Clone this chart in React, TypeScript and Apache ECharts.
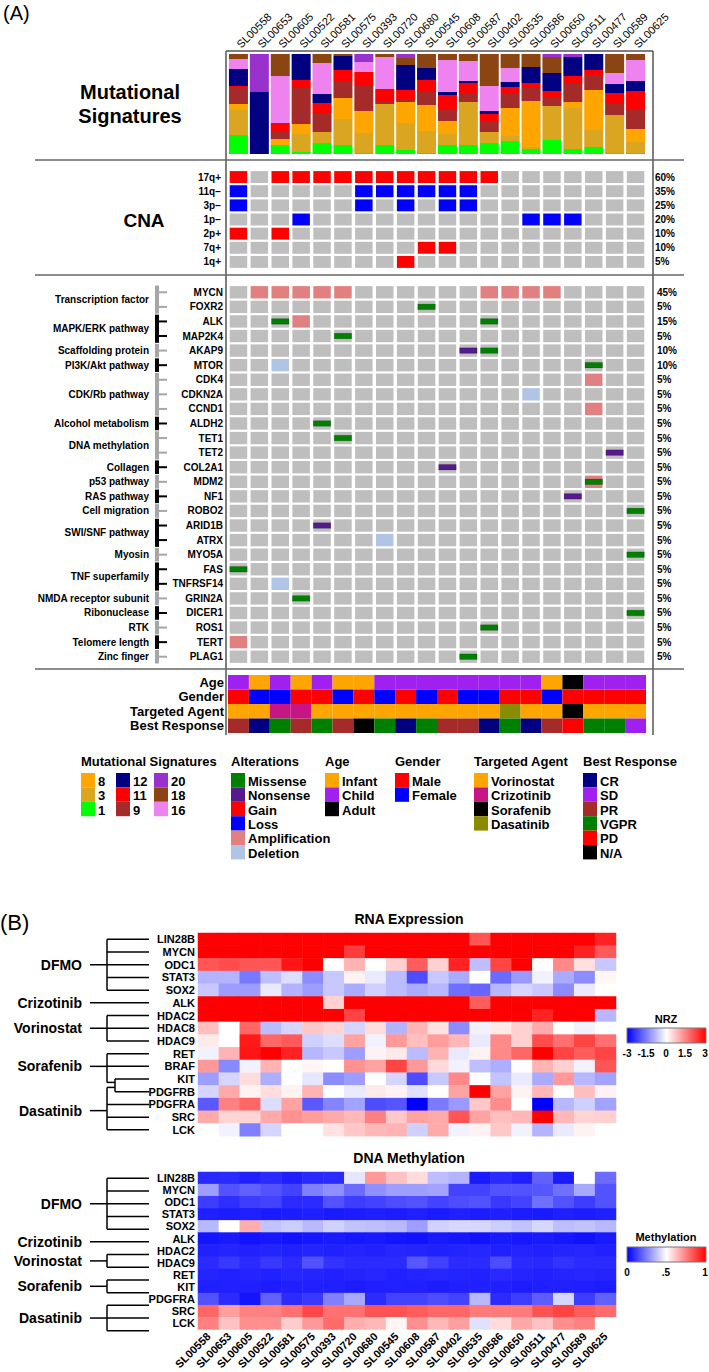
import React, { useEffect, useRef } from 'react';
import * as echarts from 'echarts';

const FONT = '"Liberation Sans", Arial, Helvetica, sans-serif';
const fnt = (size: number, bold = true) => `${bold ? 'bold ' : ''}${size}px ${FONT}`;

const samples = ['SL00558', 'SL00653', 'SL00605', 'SL00522', 'SL00581', 'SL00575', 'SL00393', 'SL00720', 'SL00680', 'SL00545', 'SL00608', 'SL00587', 'SL00402', 'SL00535', 'SL00586', 'SL00650', 'SL00511', 'SL00477', 'SL00589', 'SL00625'];

// Mutational signatures (% of each sample), stacked bottom -> top
const sigNames = ['1', '3', '8', '9', '11', '12', '16', '18', '20'];
const sig1 = [19, 0, 9, 2, 11, 9, 1, 9, 4, 1, 9, 9, 11, 13, 5, 14, 5, 7, 1, 1];
const sig3 = [25, 0, 0, 18, 11, 26, 20, 41, 27, 22, 11, 43, 11, 5, 2, 34, 41, 17, 38, 11];
const sig8 = [6, 0, 6, 10, 0, 21, 22, 0, 21, 26, 13, 0, 0, 28, 46, 0, 6, 40, 0, 13];
const sig9 = [17, 0, 8, 36, 19, 16, 26, 2, 3, 13, 12, 9, 10, 14, 13, 9, 19, 15, 11, 20];
const sig11 = [1, 0, 8, 8, 10, 12, 13, 13, 9, 12, 14, 10, 8, 7, 5, 6, 7, 5, 11, 18];
const sig12 = [17, 62, 0, 26, 9, 14, 0, 0, 25, 12, 3, 2, 3, 5, 16, 18, 19, 16, 9, 10];
const sig16 = [10, 0, 47, 0, 31, 0, 10, 32, 0, 0, 32, 20, 25, 14, 0, 0, 0, 0, 11, 21];
const sig18 = [5, 0, 22, 0, 9, 2, 0, 3, 7, 14, 6, 7, 32, 14, 13, 16, 0, 0, 19, 6];
const sig20 = [0, 38, 0, 0, 0, 0, 8, 0, 4, 0, 0, 0, 0, 0, 0, 3, 3, 0, 0, 0];
const sigValues = [sig1, sig3, sig8, sig9, sig11, sig12, sig16, sig18, sig20];

// Copy number alterations
const cnaLabels = ['17q+', '11q\u2212', '3p\u2212', '1p\u2212', '2p+', '7q+', '1q+'];
const cnaPct = ['60%', '35%', '25%', '20%', '10%', '10%', '5%'];
const cnaType = ['Gain', 'Loss', 'Loss', 'Loss', 'Gain', 'Gain', 'Gain'];
const cnaSamples = [
  [0, 2, 3, 4, 5, 6, 7, 8, 9, 10, 11, 12],
  [0, 6, 7, 8, 9, 10, 11],
  [0, 6, 8, 10, 11],
  [3, 14, 15, 16],
  [0, 2],
  [9, 10],
  [8],
];

// Gene alterations
const genes = ['MYCN', 'FOXR2', 'ALK', 'MAP2K4', 'AKAP9', 'MTOR', 'CDK4', 'CDKN2A', 'CCND1', 'ALDH2', 'TET1', 'TET2', 'COL2A1', 'MDM2', 'NF1', 'ROBO2', 'ARID1B', 'ATRX', 'MYO5A', 'FAS', 'TNFRSF14', 'GRIN2A', 'DICER1', 'ROS1', 'TERT', 'PLAG1'];
const genePct = ['45%', '5%', '15%', '5%', '10%', '10%', '5%', '5%', '5%', '5%', '5%', '5%', '5%', '5%', '5%', '5%', '5%', '5%', '5%', '5%', '5%', '5%', '5%', '5%', '5%', '5%'];
const geneAlterations: [string, number, string][] = [
  ['MYCN', 1, 'Amplification'], ['MYCN', 2, 'Amplification'], ['MYCN', 3, 'Amplification'], ['MYCN', 4, 'Amplification'], ['MYCN', 5, 'Amplification'],
  ['MYCN', 12, 'Amplification'], ['MYCN', 13, 'Amplification'], ['MYCN', 14, 'Amplification'], ['MYCN', 15, 'Amplification'],
  ['FOXR2', 9, 'Missense'],
  ['ALK', 2, 'Missense'], ['ALK', 3, 'Amplification'], ['ALK', 12, 'Missense'],
  ['MAP2K4', 5, 'Missense'],
  ['AKAP9', 11, 'Nonsense'], ['AKAP9', 12, 'Missense'],
  ['MTOR', 2, 'Deletion'], ['MTOR', 17, 'Missense'],
  ['CDK4', 17, 'Amplification'],
  ['CDKN2A', 14, 'Deletion'],
  ['CCND1', 17, 'Amplification'],
  ['ALDH2', 4, 'Missense'],
  ['TET1', 5, 'Missense'],
  ['TET2', 18, 'Nonsense'],
  ['COL2A1', 10, 'Nonsense'],
  ['MDM2', 17, 'Amplification'], ['MDM2', 17, 'Missense'],
  ['NF1', 16, 'Nonsense'],
  ['ROBO2', 19, 'Missense'],
  ['ARID1B', 4, 'Nonsense'],
  ['ATRX', 7, 'Deletion'],
  ['MYO5A', 19, 'Missense'],
  ['FAS', 0, 'Missense'],
  ['TNFRSF14', 2, 'Deletion'],
  ['GRIN2A', 3, 'Missense'],
  ['DICER1', 19, 'Missense'],
  ['ROS1', 12, 'Missense'],
  ['TERT', 0, 'Amplification'],
  ['PLAG1', 11, 'Missense'],
];
const pathwayGroups: [string, number, number][] = [
  ['Transcription factor', 0, 1], ['MAPK/ERK pathway', 2, 3], ['Scaffolding protein', 4, 4], ['PI3K/Akt pathway', 5, 5],
  ['CDK/Rb pathway', 6, 8], ['Alcohol metabolism', 9, 9], ['DNA methylation', 10, 11], ['Collagen', 12, 12],
  ['p53 pathway', 13, 13], ['RAS pathway', 14, 14], ['Cell migration', 15, 15], ['SWI/SNF pathway', 16, 17],
  ['Myosin', 18, 18], ['TNF superfamily', 19, 20], ['NMDA receptor subunit', 21, 21], ['Ribonuclease', 22, 22],
  ['RTK', 23, 23], ['Telomere length', 24, 24], ['Zinc finger', 25, 25],
];

// Clinical annotations
const clinRows = ['Age', 'Gender', 'Targeted Agent', 'Best Response'];
const ageGroup = ['Child', 'Infant', 'Child', 'Infant', 'Child', 'Infant', 'Infant', 'Child', 'Child', 'Child', 'Child', 'Child', 'Child', 'Child', 'Child', 'Infant', 'Adult', 'Child', 'Child', 'Child'];
const gender = ['Male', 'Female', 'Female', 'Male', 'Male', 'Female', 'Male', 'Female', 'Male', 'Female', 'Male', 'Female', 'Female', 'Male', 'Male', 'Female', 'Male', 'Male', 'Male', 'Male'];
const targetedAgent = ['Vorinostat', 'Vorinostat', 'Crizotinib', 'Crizotinib', 'Vorinostat', 'Vorinostat', 'Vorinostat', 'Vorinostat', 'Vorinostat', 'Vorinostat', 'Vorinostat', 'Vorinostat', 'Vorinostat', 'Dasatinib', 'Vorinostat', 'Vorinostat', 'Sorafenib', 'Vorinostat', 'Vorinostat', 'Vorinostat'];
const bestResponse = ['PR', 'CR', 'VGPR', 'PR', 'VGPR', 'PR', 'N/A', 'VGPR', 'CR', 'VGPR', 'PR', 'PR', 'CR', 'VGPR', 'CR', 'PR', 'PD', 'VGPR', 'VGPR', 'SD'];

// RNA expression (NRZ)
const rnaGenes = ['LIN28B', 'MYCN', 'ODC1', 'STAT3', 'SOX2', 'ALK', 'HDAC2', 'HDAC8', 'HDAC9', 'RET', 'BRAF', 'KIT', 'PDGFRB', 'PDGFRA', 'SRC', 'LCK'];
const rnaLIN28B = [3.2, 3.1, 3.3, 3.2, 3.4, 3.1, 3.2, 3.3, 3.1, 3.2, 3.4, 3.2, 3.1, 2.0, 3.2, 3.3, 3.1, 3.2, 3.1, 2.6];
const rnaMYCN = [3.3, 3.2, 3.1, 3.4, 3.2, 3.3, 3.1, 2.3, 3.2, 3.1, 3.3, 3.2, 3.4, 3.1, 3.2, 3.3, 3.1, 3.2, 2.6, 1.95];
const rnaODC1 = [2.0, 2.1, 2.0, 2.0, 2.75, 3.0, 0.0, 0.9, 0.0, 0.55, 1.9, 0.55, 2.6, -0.75, 2.2, 3.0, 0.0, 1.4, 0.35, -0.65];
const rnaSTAT3 = [-0.9, -0.9, -1.6, -0.75, -0.4, -1.35, -0.65, 0.15, -0.25, -0.8, -2.1, -0.65, -1.0, 0.0, -1.75, -1.2, -0.15, -1.0, -1.35, 0.1];
const rnaSOX2 = [-0.65, -1.15, -1.15, -0.25, -0.9, -1.15, -0.65, -1.0, -0.55, -0.8, -1.0, -0.85, -1.7, -1.8, -0.85, -0.5, -0.65, -1.35, -0.25, 0.0];
const rnaALK = [3.2, 3.3, 3.1, 3.2, 3.4, 3.1, 0.55, 3.3, 3.2, 3.1, 3.2, 3.3, 3.1, 1.9, 3.2, 3.1, 3.3, 3.2, 3.1, 3.4];
const rnaHDAC2 = [3.1, 3.2, 3.3, 3.1, 3.2, 3.3, 3.1, 2.2, 3.2, 3.1, 3.3, 3.2, 3.1, 3.2, 3.3, 3.1, 2.6, 3.2, 3.1, -0.85];
const rnaHDAC8 = [0.75, 0.0, 1.8, -0.8, -0.5, 0.65, 0.5, -0.5, 0.4, -0.9, 0.9, 0.35, -1.35, -0.15, 0.25, 0.55, 1.0, 0.0, -0.15, 0.0];
const rnaHDAC9 = [0.25, 0.0, 2.7, 1.8, 1.95, -0.55, -0.4, 1.1, -0.15, 1.2, 0.75, 1.15, 0.85, -0.25, 1.4, 0.55, 2.1, 1.7, 2.2, 1.7];
const rnaRET = [-0.15, 0.9, 2.75, 3.0, 2.6, -0.85, -0.65, -1.15, 0.15, 0.25, -0.8, 0.9, -0.25, 0.15, 1.4, 1.8, 3.0, 2.2, 1.9, 2.2];
const rnaBRAF = [1.2, -1.4, -0.15, 0.9, 0.0, 0.1, 0.0, 1.3, 1.1, 2.2, 1.2, 0.45, -0.15, -0.75, -0.95, 0.0, 0.9, 0.55, -0.15, 2.0];
const rnaKIT = [-1.15, -0.5, 0.4, -0.95, 0.0, -0.3, -1.35, -1.15, 0.0, -0.5, -2.1, -0.65, 1.4, 0.0, -0.7, -0.25, -1.0, 1.2, -0.85, -1.1];
const rnaPDGFRB = [-0.5, 1.0, 0.15, 0.4, 0.15, 0.9, 0.0, -0.25, 0.25, 0.15, -0.35, 0.0, 1.1, 3.0, 1.1, 0.15, 0.85, 0.0, 0.75, 0.15];
const rnaPDGFRA = [-1.95, 1.5, 1.8, -0.4, 1.1, -1.95, -1.45, -1.1, -2.1, -2.0, -3.0, -1.55, -1.2, 0.65, 1.35, 0.0, -3.0, -0.85, -0.55, -1.1];
const rnaSRC = [1.0, 0.5, 0.5, 1.0, 1.3, 1.15, 1.0, 0.85, 1.5, 0.65, 1.1, 1.0, 2.0, 1.1, 0.75, 0.85, 3.0, 0.85, 0.5, 0.55];
const rnaLCK = [0.0, -0.15, -1.5, -0.5, 0.0, 0.0, 0.35, 0.65, 0.85, 0.9, -0.55, 1.0, -0.15, 0.15, 0.65, -0.15, -0.9, -0.25, 0.15, 0.0];
const rnaValues = [rnaLIN28B, rnaMYCN, rnaODC1, rnaSTAT3, rnaSOX2, rnaALK, rnaHDAC2, rnaHDAC8, rnaHDAC9, rnaRET, rnaBRAF, rnaKIT, rnaPDGFRB, rnaPDGFRA, rnaSRC, rnaLCK];

// DNA methylation (beta)
const metGenes = ['LIN28B', 'MYCN', 'ODC1', 'STAT3', 'SOX2', 'ALK', 'HDAC2', 'HDAC9', 'RET', 'KIT', 'PDGFRA', 'SRC', 'LCK'];
const metLIN28B = [0.08, 0.085, 0.06, 0.085, 0.06, 0.08, 0.085, 0.45, 0.7, 0.62, 0.57, 0.37, 0.35, 0.05, 0.085, 0.06, 0.19, 0.05, 0.5, 0.21];
const metMYCN = [0.31, 0.16, 0.19, 0.16, 0.13, 0.25, 0.28, 0.21, 0.28, 0.31, 0.31, 0.32, 0.13, 0.13, 0.16, 0.16, 0.17, 0.22, 0.33, 0.16];
const metODC1 = [0.12, 0.09, 0.12, 0.13, 0.085, 0.085, 0.16, 0.12, 0.13, 0.15, 0.16, 0.13, 0.15, 0.16, 0.11, 0.13, 0.22, 0.16, 0.12, 0.16];
const metSTAT3 = [0.06, 0.055, 0.06, 0.05, 0.055, 0.06, 0.05, 0.055, 0.06, 0.055, 0.06, 0.05, 0.06, 0.055, 0.06, 0.055, 0.05, 0.06, 0.055, 0.06];
const metSOX2 = [0.36, 0.5, 0.66, 0.38, 0.4, 0.36, 0.41, 0.38, 0.37, 0.36, 0.31, 0.41, 0.42, 0.42, 0.4, 0.38, 0.42, 0.37, 0.38, 0.36];
const metALK = [0.04, 0.05, 0.035, 0.045, 0.035, 0.045, 0.05, 0.045, 0.05, 0.04, 0.035, 0.05, 0.045, 0.035, 0.05, 0.045, 0.05, 0.045, 0.035, 0.05];
const metHDAC2 = [0.065, 0.07, 0.065, 0.07, 0.065, 0.07, 0.065, 0.07, 0.065, 0.075, 0.07, 0.065, 0.07, 0.075, 0.065, 0.07, 0.065, 0.07, 0.075, 0.065];
const metHDAC9 = [0.085, 0.11, 0.085, 0.11, 0.085, 0.16, 0.1, 0.085, 0.085, 0.085, 0.17, 0.125, 0.085, 0.085, 0.15, 0.085, 0.08, 0.1, 0.085, 0.085];
const metRET = [0.07, 0.065, 0.07, 0.065, 0.075, 0.07, 0.065, 0.07, 0.075, 0.065, 0.07, 0.075, 0.07, 0.065, 0.08, 0.07, 0.065, 0.07, 0.075, 0.07];
const metKIT = [0.06, 0.065, 0.06, 0.055, 0.06, 0.065, 0.06, 0.055, 0.06, 0.065, 0.06, 0.055, 0.06, 0.065, 0.06, 0.055, 0.06, 0.065, 0.06, 0.055];
const metPDGFRA = [0.16, 0.085, 0.04, 0.19, 0.085, 0.11, 0.25, 0.33, 0.085, 0.13, 0.13, 0.15, 0.13, 0.36, 0.085, 0.12, 0.18, 0.42, 0.12, 0.19];
const metSRC = [0.8, 0.69, 0.75, 0.75, 0.78, 0.86, 0.78, 0.78, 0.84, 0.84, 0.82, 0.8, 0.8, 0.76, 0.76, 0.76, 0.84, 0.87, 0.82, 0.79];
const metLCK = [0.75, 0.62, 0.72, 0.72, 0.6, 0.7, 0.79, 0.66, 0.64, 0.52, 0.72, 0.64, 0.69, 0.44, 0.57, 0.67, 0.62, 0.72, 0.75, 0.5];
const metValues = [metLIN28B, metMYCN, metODC1, metSTAT3, metSOX2, metALK, metHDAC2, metHDAC9, metRET, metKIT, metPDGFRA, metSRC, metLCK];

// Colours
const sigColors: Record<string, string> = { '1': '#00FF00', '3': '#DAA520', '8': '#FFA500', '9': '#A52A2A', '11': '#FF0000', '12': '#000080', '16': '#EE82EE', '18': '#8B4513', '20': '#9932CC' };
const altColors: Record<string, string> = { Missense: '#008000', Nonsense: '#551A8B', Gain: '#FF0000', Loss: '#0000FF', Amplification: '#E08080', Deletion: '#B0C4E6' };
const catColors: Record<string, string> = {
  Infant: '#FFA500', Child: '#A020F0', Adult: '#000000', Male: '#FF0000', Female: '#0000FF',
  Vorinostat: '#FFA500', Crizotinib: '#C71585', Sorafenib: '#000000', Dasatinib: '#8B8B00',
  CR: '#000080', SD: '#A020F0', PR: '#A52A2A', VGPR: '#008000', PD: '#FF0000', 'N/A': '#000000',
};
const GRAY = '#BEBEBE';

// Layout
const TOP_LEFT = 228, TOP_W = 418;
const HM_LEFT = 198, HM_W = 418;
const SIG_TOP = 54, SIG_H = 100;
const CNA_TOP = 170, CNA_H = 99;
const GENE_TOP = 285, GENE_H = 379;
const CLIN_TOP = 675, CLIN_H = 58;
const RNA_TOP = 933, RNA_H = 203.2;
const MET_TOP = 1172, MET_H = 165.1;

type Cell = { fill: string; bar?: string };

function buildOption() {
  // CNA cells
  const cnaData: number[][] = [];
  const cnaInfo: Cell[] = [];
  cnaLabels.forEach((_, r) => {
    samples.forEach((__, c) => {
      const hit = cnaSamples[r].includes(c);
      cnaData.push([c, r]);
      cnaInfo.push({ fill: hit ? altColors[cnaType[r]] : GRAY });
    });
  });
  // gene cells
  const geneData: number[][] = [];
  const geneInfo: Cell[] = [];
  genes.forEach((gn, r) => {
    samples.forEach((_, c) => {
      const alts = geneAlterations.filter((a) => a[0] === gn && a[1] === c).map((a) => a[2]);
      let fill = GRAY;
      let bar: string | undefined;
      alts.forEach((t) => {
        if (t === 'Amplification' || t === 'Deletion') fill = altColors[t];
        else bar = altColors[t];
      });
      geneData.push([c, r]);
      geneInfo.push({ fill, bar });
    });
  });
  // clinical cells
  const clinVals = [ageGroup, gender, targetedAgent, bestResponse];
  const clinData: number[][] = [];
  const clinInfo: Cell[] = [];
  clinVals.forEach((row, r) => {
    row.forEach((v, c) => {
      clinData.push([c, r]);
      clinInfo.push({ fill: catColors[v] });
    });
  });

  const cellRender = (info: Cell[], gapX: number, gapY: number) => (params: any, api: any) => {
    const it = info[params.dataIndex];
    const p = api.coord([api.value(0), api.value(1)]);
    const sz = api.size([1, 1]);
    const w = sz[0] - gapX;
    const h = sz[1] - gapY;
    const children: any[] = [
      { type: 'rect', shape: { x: p[0] - w / 2, y: p[1] - h / 2, width: w, height: h }, style: { fill: it.fill } },
    ];
    if (it.bar) {
      children.push({
        type: 'rect',
        shape: { x: p[0] - w / 2, y: p[1] - 2.8, width: w, height: 5.6 },
        style: { fill: it.bar, stroke: 'rgba(0,0,0,0.25)', lineWidth: 0.6 },
      });
    }
    return { type: 'group', children };
  };

  const rnaData: number[][] = [];
  rnaValues.forEach((row, r) => row.forEach((v, c) => rnaData.push([c, r, v])));
  const metData: number[][] = [];
  metValues.forEach((row, r) => row.forEach((v, c) => metData.push([c, r, v])));

  // graphics
  const g: any[] = [];
  const line = (x1: number, y1: number, x2: number, y2: number, w = 1.5, c = '#000') =>
    g.push({ type: 'line', silent: true, shape: { x1, y1, x2, y2 }, style: { stroke: c, lineWidth: w } });
  const text = (t: string, x: number, y: number, font: string, align = 'left', v = 'middle') =>
    g.push({ type: 'text', silent: true, x, y, style: { text: t, font, fill: '#000', textAlign: align, textVerticalAlign: v } });
  const rect = (x: number, y: number, w: number, h: number, fill: any, stroke?: string) =>
    g.push({ type: 'rect', silent: true, shape: { x, y, width: w, height: h }, style: { fill, stroke: stroke || null, lineWidth: stroke ? 1 : 0 } });

  // panel A frame
  text('(A)', 3, 13, fnt(20, false));
  text('Mutational', 130, 92, fnt(20), 'center');
  text('Signatures', 130, 116, fnt(20), 'center');
  text('CNA', 144, 220, fnt(19), 'center');
  line(226, 51, 653, 51, 1.5, '#555');
  line(226, 51, 226, 735, 1.5, '#555');
  line(653, 51, 653, 735, 1.5, '#555');
  [160, 275, 669].forEach((y) => line(35, y, 684, y, 1.5, '#666'));

  // pathway brackets
  const gStep = GENE_H / genes.length;
  pathwayGroups.forEach(([name, s, e], k) => {
    const col = k % 2 === 0 ? '#A6A6A6' : '#000000';
    const y0 = GENE_TOP + s * gStep;
    const y1 = GENE_TOP + (e + 1) * gStep;
    rect(155, y0 + 0.5, 4, y1 - y0 - 1, col);
    for (let i = s; i <= e; i++) {
      const yc = GENE_TOP + (i + 0.5) * gStep;
      line(159, yc, 167, yc, 2, col);
    }
    text(name, 149, (y0 + y1) / 2, fnt(10), 'right');
  });

  // legends (panel A)
  const LT = 761, LY = 773, LS = 14.4;
  text('Mutational Signatures', 81, LT, fnt(13));
  const sigLegendCols = [['8', '3', '1'], ['12', '11', '9'], ['20', '18', '16']];
  const sigLegendX = [81, 116, 154];
  sigLegendCols.forEach((col, ci) => {
    col.forEach((nm, k) => {
      rect(sigLegendX[ci], LY + k * LS, 14, LS, sigColors[nm]);
      text(nm, sigLegendX[ci] + 17, LY + k * LS + LS / 2 + 1, fnt(13));
    });
  });
  const legendBlocks: [string, number, string[], Record<string, string>][] = [
    ['Alterations', 231, ['Missense', 'Nonsense', 'Gain', 'Loss', 'Amplification', 'Deletion'], altColors],
    ['Age', 325, ['Infant', 'Child', 'Adult'], catColors],
    ['Gender', 395, ['Male', 'Female'], catColors],
    ['Targeted Agent', 474, ['Vorinostat', 'Crizotinib', 'Sorafenib', 'Dasatinib'], catColors],
    ['Best Response', 583, ['CR', 'SD', 'PR', 'VGPR', 'PD', 'N/A'], catColors],
  ];
  legendBlocks.forEach(([title, x, items, cmap]) => {
    text(title, x, LT, fnt(13));
    items.forEach((nm, k) => {
      rect(x, LY + k * LS, 14, LS, cmap[nm]);
      text(nm, x + 17, LY + k * LS + LS / 2 + 1, fnt(13));
    });
  });

  // panel B
  text('(B)', 0, 922, fnt(22, false));
  text('RNA Expression', 409, 919, fnt(14), 'center');
  text('DNA Methylation', 409, 1158, fnt(14), 'center');

  const XS = 90, XV = 107, XE = 149, XSUB = 115;
  const rRow = (i: number) => RNA_TOP + (i + 0.5) * (RNA_H / rnaGenes.length);
  const mRow = (i: number) => MET_TOP + (i + 0.5) * (MET_H / metGenes.length);
  const clade = (rows: number[], rowY: (i: number) => number, label: string, stemY?: number) => {
    const ys = rows.map(rowY);
    const sy = stemY !== undefined ? stemY : (ys[0] + ys[ys.length - 1]) / 2;
    if (rows.length === 1) {
      line(XS, ys[0], XE, ys[0]);
    } else {
      line(XV, ys[0], XV, ys[ys.length - 1]);
      ys.forEach((y) => line(XV, y, XE, y));
      line(XS, sy, XV, sy);
    }
    text(label, 82, sy, fnt(14), 'right');
  };
  // RNA dendrogram
  clade([0, 1, 2, 3, 4], rRow, 'DFMO');
  clade([5], rRow, 'Crizotinib');
  clade([6, 7, 8], rRow, 'Vorinostat');
  {
    const ySor = (rRow(11) + rRow(12)) / 2 - 3;
    const yDas = ySor + 5;
    line(XV, rRow(9), XV, ySor);
    line(XV, rRow(9), XE, rRow(9));
    line(XV, rRow(10), XE, rRow(10));
    line(XS, rRow(10), XV, rRow(10));
    line(XSUB, rRow(11), XSUB, rRow(12));
    line(XSUB, rRow(11), XE, rRow(11));
    line(XSUB, rRow(12), XE, rRow(12));
    line(XV, ySor, XSUB, ySor);
    line(XV, yDas, XSUB, yDas);
    line(XV, yDas, XV, rRow(15));
    [13, 14, 15].forEach((i) => line(XV, rRow(i), XE, rRow(i)));
    const sDas = (yDas + rRow(15)) / 2 + 2;
    line(XS, sDas, XV, sDas);
    text('Sorafenib', 82, rRow(10), fnt(14), 'right');
    text('Dasatinib', 82, sDas, fnt(14), 'right');
  }
  // Methylation dendrogram
  clade([0, 1, 2, 3, 4], mRow, 'DFMO');
  clade([5], mRow, 'Crizotinib');
  clade([6, 7], mRow, 'Vorinostat');
  clade([8, 9], mRow, 'Sorafenib');
  clade([10, 11, 12], mRow, 'Dasatinib');

  // colour scales
  const grad = () =>
    new echarts.graphic.LinearGradient(0, 0, 1, 0, [
      { offset: 0, color: '#0000FF' },
      { offset: 0.5, color: '#FFFFFF' },
      { offset: 1, color: '#FF0000' },
    ]);
  text('NRZ', 666, 1019, fnt(11), 'center');
  rect(627, 1028, 79, 15, grad(), '#777');
  [['-3', 627], ['-1.5', 646], ['0', 666], ['1.5', 685], ['3', 705]].forEach(([t, x]) =>
    text(t as string, x as number, 1053, fnt(10), 'center'));
  text('Methylation', 666, 1237, fnt(11), 'center');
  rect(627, 1247, 79, 15, grad(), '#777');
  [['0', 627], ['.5', 666], ['1', 705]].forEach(([t, x]) => text(t as string, x as number, 1272, fnt(10), 'center'));

  const hiddenX = (gi: number) => ({ gridIndex: gi, type: 'category', data: samples, show: false });
  const catY = (gi: number, data: string[], extra: any = {}) => ({
    gridIndex: gi,
    type: 'category',
    data,
    inverse: true,
    axisLine: { show: false },
    axisTick: { show: false },
    splitLine: { show: false },
    ...extra,
    axisLabel: { interval: 0, color: '#000', fontFamily: FONT, fontWeight: 'bold', fontSize: 10, ...(extra.axisLabel || {}) },
  });

  return {
    animation: false,
    backgroundColor: '#ffffff',
    textStyle: { fontFamily: FONT },
    grid: [
      { left: TOP_LEFT, top: SIG_TOP, width: TOP_W, height: SIG_H },
      { left: TOP_LEFT, top: CNA_TOP, width: TOP_W, height: CNA_H },
      { left: TOP_LEFT, top: GENE_TOP, width: TOP_W, height: GENE_H },
      { left: TOP_LEFT, top: CLIN_TOP, width: TOP_W, height: CLIN_H },
      { left: HM_LEFT, top: RNA_TOP, width: HM_W, height: RNA_H },
      { left: HM_LEFT, top: MET_TOP, width: HM_W, height: MET_H },
    ],
    xAxis: [
      {
        gridIndex: 0, type: 'category', data: samples, position: 'top',
        axisLine: { show: false }, axisTick: { show: false },
        axisLabel: { rotate: 45, interval: 0, margin: 8, fontSize: 11, color: '#000', fontFamily: FONT },
      },
      hiddenX(1), hiddenX(2), hiddenX(3), hiddenX(4),
      {
        gridIndex: 5, type: 'category', data: samples, position: 'bottom',
        axisLine: { show: false }, axisTick: { show: false },
        axisLabel: { rotate: 45, interval: 0, margin: 5, fontSize: 11, fontWeight: 'bold', color: '#000', fontFamily: FONT },
      },
    ],
    yAxis: [
      { gridIndex: 0, type: 'value', min: 0, max: 100, show: false },
      catY(1, cnaLabels, { axisLabel: { margin: 7 } }),
      catY(1, cnaLabels, { position: 'right', axisLabel: { margin: 9, formatter: (_v: string, i: number) => cnaPct[i] } }),
      catY(2, genes, { axisLabel: { margin: 5 } }),
      catY(2, genes, { position: 'right', axisLabel: { margin: 11, formatter: (_v: string, i: number) => genePct[i] } }),
      catY(3, clinRows, { axisLabel: { margin: 4, fontSize: 13 } }),
      catY(4, rnaGenes, { axisLabel: { margin: 3, fontSize: 11 } }),
      catY(5, metGenes, { axisLabel: { margin: 3, fontSize: 11 } }),
    ],
    visualMap: [
      { type: 'continuous', show: false, seriesIndex: 12, min: -3, max: 3, inRange: { color: ['#0000FF', '#FFFFFF', '#FF0000'] } },
      { type: 'continuous', show: false, seriesIndex: 13, min: 0, max: 1, inRange: { color: ['#0000FF', '#FFFFFF', '#FF0000'] } },
    ],
    series: [
      ...sigNames.map((nm, k) => ({
        type: 'bar', name: nm, stack: 'sig', xAxisIndex: 0, yAxisIndex: 0,
        barWidth: '91%', data: sigValues[k], itemStyle: { color: sigColors[nm] }, silent: true,
      })),
      { type: 'custom', xAxisIndex: 1, yAxisIndex: 1, data: cnaData, renderItem: cellRender(cnaInfo, 3.4, 2.2), silent: true },
      { type: 'custom', xAxisIndex: 2, yAxisIndex: 3, data: geneData, renderItem: cellRender(geneInfo, 3.4, 2.2), silent: true },
      { type: 'custom', xAxisIndex: 3, yAxisIndex: 5, data: clinData, renderItem: cellRender(clinInfo, 0, 0), silent: true },
      { type: 'heatmap', xAxisIndex: 4, yAxisIndex: 6, data: rnaData, silent: true, itemStyle: { borderWidth: 0 } },
      { type: 'heatmap', xAxisIndex: 5, yAxisIndex: 7, data: metData, silent: true, itemStyle: { borderWidth: 0 } },
    ],
    graphic: g,
  };
}

export default function App() {
  const ref = useRef<HTMLDivElement>(null);
  useEffect(() => {
    const chart = echarts.init(ref.current as HTMLDivElement, null, { renderer: 'svg' });
    chart.setOption(buildOption() as any);
    return () => chart.dispose();
  }, []);
  return (
    <div
      ref={ref}
      style={{ position: 'absolute', left: 0, top: 0, width: 709, height: 1372, background: '#fff' }}
    />
  );
}
